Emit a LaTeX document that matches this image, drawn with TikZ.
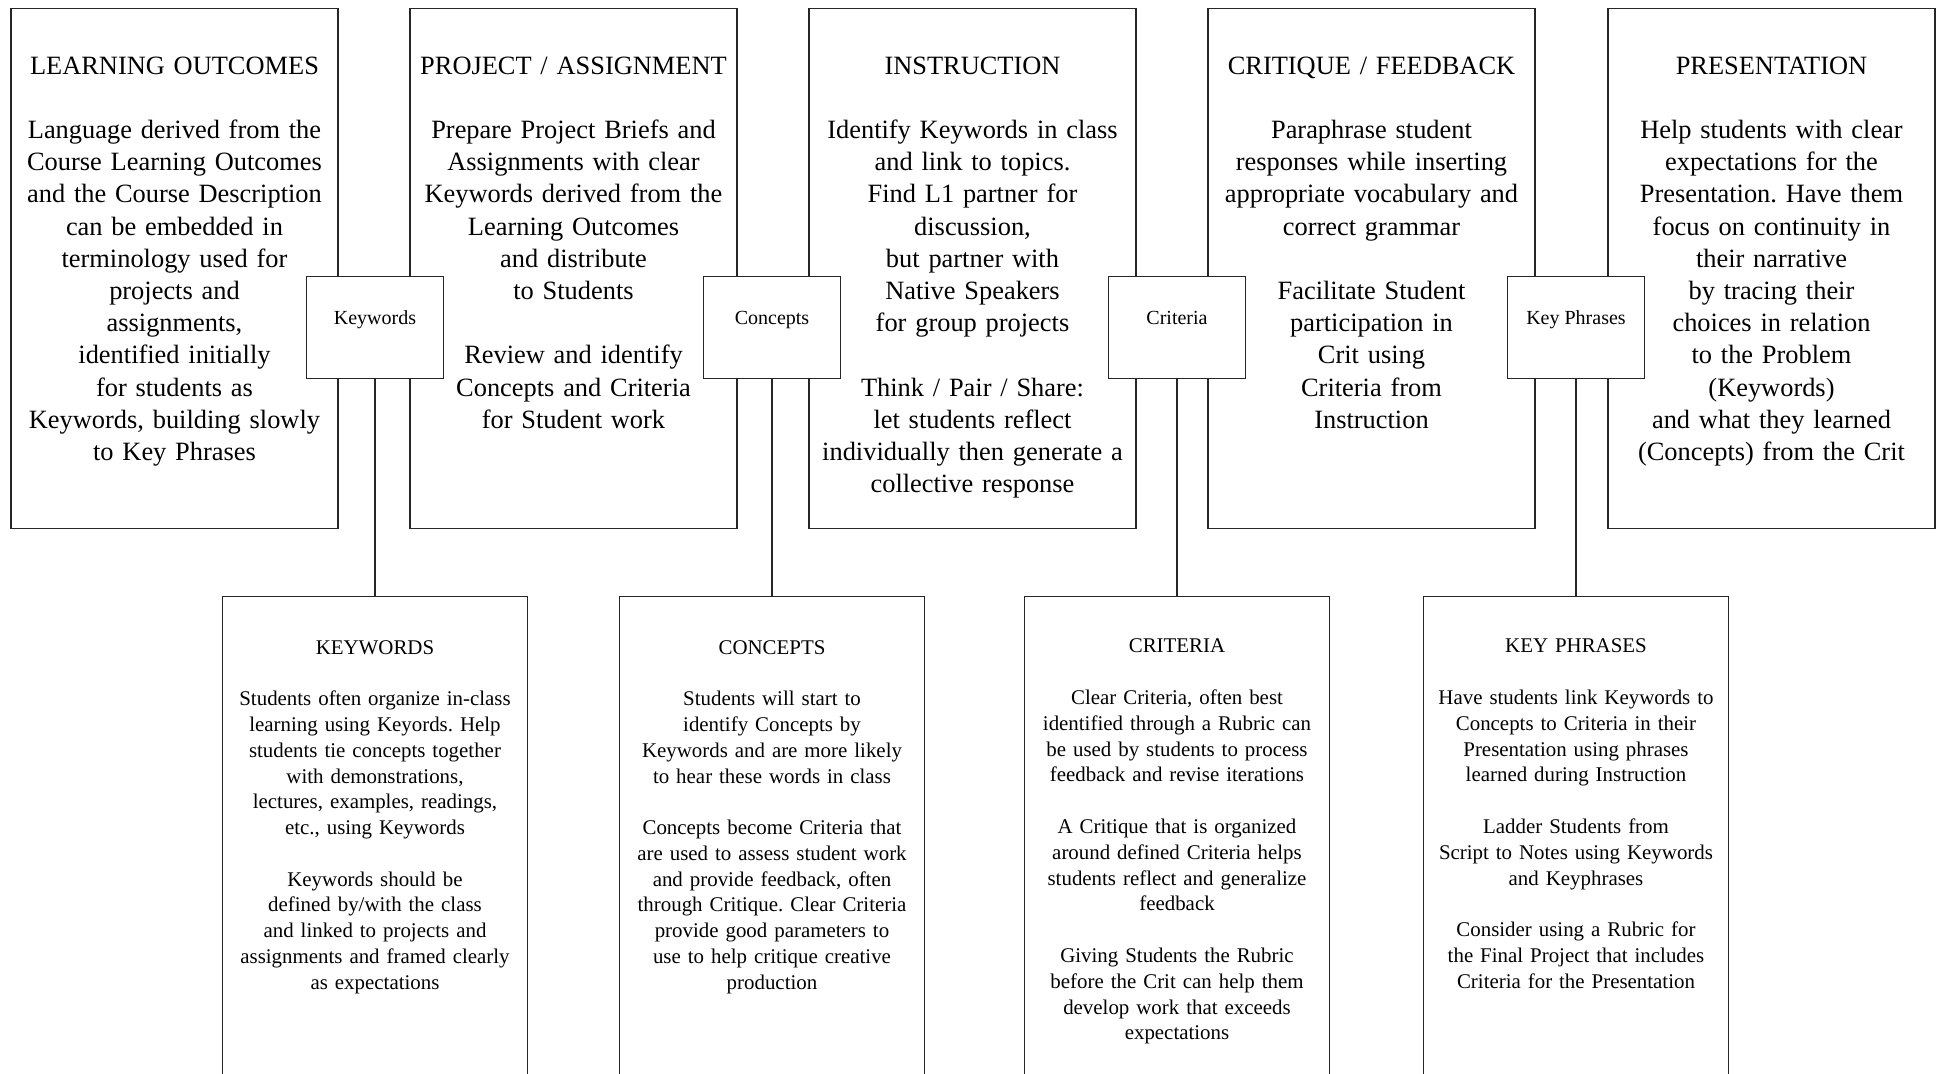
\documentclass[tikz,border=0pt]{standalone}
\usepackage{fontspec}
\setmainfont{Liberation Serif}
\usepackage{tikz}
\usetikzlibrary{positioning}
\frenchspacing

\tikzset{
	box/.style={draw=black!85, line width=0.65pt, inner sep=0pt, anchor=north},
	topbox/.style={box, minimum width=163.5pt, minimum height=260pt},
	lowbox/.style={box, minimum width=152.5pt, minimum height=300pt},
	keybox/.style={draw=black!85, fill=white, line width=0.65pt, inner sep=0pt,
		minimum width=68.5pt, minimum height=51pt, text height=7pt, text depth=9.9pt,
		font=\fontsize{10}{12}\selectfont},
	toptext/.style={align=center, anchor=base, inner sep=0pt, text width=168pt,
		font=\fontsize{13.2}{16.1}\selectfont},
	lowtext/.style={align=center, anchor=base, inner sep=0pt, text width=156pt,
		font=\fontsize{10.45}{12.9}\selectfont},
	link/.style={draw=black!85, line width=0.65pt}
}

\begin{document}
\begin{tikzpicture}[x=0.5pt, y=-0.5pt]
	\useasboundingbox (0,0) rectangle (1944,1074);
	\clip (0,0) rectangle (1944,1074);
	% obere Reihe
	\foreach \x/\n in {174.5/lo, 573.5/pa, 972.5/ins, 1371.5/cf, 1771.5/pr}
		\node[topbox] (\n) at (\x,8) {};
	\node[toptext] (lotxt) at ([yshift=-33.1pt]lo.north) {LEARNING OUTCOMES\\[\baselineskip]
		Language derived from the\\ Course Learning Outcomes\\ and the Course Description\\
		can be embedded in\\ terminology used for\\ projects and\\ assignments,\\
		identified initially\\ for students as\\ Keywords, building slowly\\ to Key Phrases};
	\node[toptext] (patxt) at ([yshift=-33.1pt]pa.north) {PROJECT / ASSIGNMENT\\[\baselineskip]
		Prepare Project Briefs and\\ Assignments with clear\\ Keywords derived from the\\
		Learning Outcomes\\ and distribute\\ to Students\\[\baselineskip]
		Review and identify\\ Concepts and Criteria\\ for Student work};
	\node[toptext] (instxt) at ([yshift=-33.1pt]ins.north) {INSTRUCTION\\[\baselineskip]
		Identify Keywords in class\\ and link to topics.\\ Find L1 partner for\\ discussion,\\
		but partner with\\ Native Speakers\\ for group projects\\[\baselineskip]
		Think / Pair / Share:\\ let students reflect\\ individually then generate a\\ collective response};
	\node[toptext] (cftxt) at ([yshift=-33.1pt]cf.north) {CRITIQUE / FEEDBACK\\[\baselineskip]
		Paraphrase student\\ responses while inserting\\ appropriate vocabulary and\\ correct grammar\\[\baselineskip]
		Facilitate Student\\ participation in\\ Crit using\\ Criteria from\\ Instruction};
	\node[toptext] (prtxt) at ([yshift=-33.1pt]pr.north) {PRESENTATION\\[\baselineskip]
		Help students with clear\\ expectations for the\\ Presentation. Have them\\
		focus on continuity in\\ their narrative\\ by tracing their\\ choices in relation\\
		to the Problem\\ (Keywords)\\ and what they learned\\ (Concepts) from the Crit};
	% Verbindungsboxen
	\node[keybox] (kw) at (375,327.6) {Keywords};
	\node[keybox] (co) at (772,327.6) {Concepts};
	\node[keybox] (cr) at (1177,327.6) {Criteria};
	\node[keybox] (kp) at (1576,327.6) {Key Phrases};
	% untere Reihe
	\foreach \x/\n in {375/kwl, 772/col, 1177/crl, 1576/kpl}
		\node[lowbox] (\n) at (\x,596) {};
	\foreach \a/\b in {kw/kwl, co/col, cr/crl, kp/kpl}
		\draw[link] (\a.south) -- (\b.north);
	\node[lowtext] (kwltxt) at ([yshift=-29pt]kwl.north) {KEYWORDS\\[\baselineskip]
		Students often organize in-class\\ learning using Keyords. Help\\ students tie concepts together\\
		with demonstrations,\\ lectures, examples, readings,\\ etc., using Keywords\\[\baselineskip]
		Keywords should be\\ defined by/with the class\\ and linked to projects and\\
		assignments and framed clearly\\ as expectations};
	\node[lowtext] (coltxt) at ([yshift=-29pt]col.north) {CONCEPTS\\[\baselineskip]
		Students will start to\\ identify Concepts by\\ Keywords and are more likely\\
		to hear these words in class\\[\baselineskip]
		Concepts become Criteria that\\ are used to assess student work\\ and provide feedback, often\\
		through Critique. Clear Criteria\\ provide good parameters to\\ use to help critique creative\\ production};
	\node[lowtext] (crltxt) at ([yshift=-28.5pt]crl.north) {CRITERIA\\[\baselineskip]
		Clear Criteria, often best\\ identified through a Rubric can\\ be used by students to process\\
		feedback and revise iterations\\[\baselineskip]
		A Critique that is organized\\ around defined Criteria helps\\ students reflect and generalize\\ feedback\\[\baselineskip]
		Giving Students the Rubric\\ before the Crit can help them\\ develop work that exceeds\\ expectations};
	\node[lowtext] (kpltxt) at ([yshift=-28.5pt]kpl.north) {KEY PHRASES\\[\baselineskip]
		Have students link Keywords to\\ Concepts to Criteria in their\\ Presentation using phrases\\
		learned during Instruction\\[\baselineskip]
		Ladder Students from\\ Script to Notes using Keywords\\ and Keyphrases\\[\baselineskip]
		Consider using a Rubric for\\ the Final Project that includes\\ Criteria for the Presentation};
\end{tikzpicture}
\end{document}
